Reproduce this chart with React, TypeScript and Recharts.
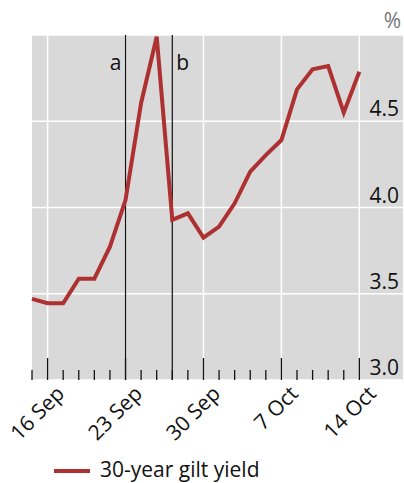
import React from 'react';
import { LineChart, Line, XAxis, YAxis, CartesianGrid, ReferenceLine } from 'recharts';

// business days, 15 Sep - 14 Oct 2022
const dates = [
  '15 Sep', '16 Sep', '19 Sep', '20 Sep', '21 Sep', '22 Sep', '23 Sep',
  '26 Sep', '27 Sep', '28 Sep', '29 Sep', '30 Sep',
  '3 Oct', '4 Oct', '5 Oct', '6 Oct', '7 Oct',
  '10 Oct', '11 Oct', '12 Oct', '13 Oct', '14 Oct'
];
const giltYield = [
  3.47, 3.445, 3.445, 3.587, 3.587, 3.773, 4.043,
  4.606, 4.99, 3.928, 3.966, 3.825,
  3.889, 4.024, 4.208, 4.304, 4.391,
  4.685, 4.801, 4.82, 4.55, 4.787
];
const labelledDates = ['16 Sep', '23 Sep', '30 Sep', '7 Oct', '14 Oct'];
const yTicks = [3, 3.5, 4, 4.5];
const events = [
  { date: '23 Sep', label: 'a' },
  { date: '28 Sep', label: 'b' }
];

const data = dates.map((d, i) => ({ i, date: d, value: giltYield[i] }));
const majorIdx = labelledDates.map((d) => dates.indexOf(d));

const FONT = '"Open Sans", "Noto Sans", sans-serif';
const RED = '#ae3131';
const FS = 21;

const XTick = (props: any) => {
  const { x, y, payload } = props;
  const i = payload.value;
  const major = majorIdx.includes(i);
  const tx = x + 18;
  const ty = y + 15;
  return (
    <g>
      <line x1={x} x2={x} y1={y} y2={y - (major ? 22 : 10)} stroke="#111" strokeWidth={1.3} />
      {major && (
        <text x={tx} y={ty} textAnchor="end" fontSize={FS} fill="#111" fontFamily={FONT}
          transform={`rotate(-45, ${tx}, ${ty})`}>
          {dates[i]}
        </text>
      )}
    </g>
  );
};

const YTick = (props: any) => {
  const { y, payload } = props;
  return (
    <text x={399} y={y - 5} textAnchor="end" fontSize={FS} fill="#111" fontFamily={FONT}>
      {payload.value.toFixed(1)}
    </text>
  );
};

export default function App() {
  return (
    <div style={{ position: 'absolute', left: 0, top: 0, width: 404, height: 483, background: '#fff', fontFamily: FONT, overflow: 'hidden' }}>
      <LineChart width={404} height={483} data={data} margin={{ top: 35, right: 0, bottom: 73, left: 32 }}>
        <CartesianGrid vertical={false} stroke="#fff" strokeWidth={1.5} fill="#d9d9d9" fillOpacity={1} />
        <XAxis
          dataKey="i"
          type="number"
          domain={[0, 23.8]}
          ticks={data.map((d) => d.i)}
          interval={0}
          axisLine={false}
          tickLine={false}
          tickSize={0}
          tickMargin={0}
          height={30}
          tick={<XTick />}
        />
        <YAxis
          orientation="right"
          width={1}
          domain={[3, 5]}
          ticks={yTicks}
          axisLine={false}
          tickLine={false}
          tickSize={0}
          tickMargin={0}
          tick={<YTick />}
        />
        {majorIdx.map((i) => (
          <ReferenceLine key={'g' + i} x={i} stroke="#fff" strokeWidth={1.5} />
        ))}
        {events.map((e) => (
          <ReferenceLine
            key={e.label}
            x={dates.indexOf(e.date)}
            stroke="#111"
            strokeWidth={1.2}
            label={(p: any) => {
              const vb = p.viewBox;
              const left = e.label === 'a';
              return (
                <text x={left ? vb.x - 4 : vb.x + 4} y={vb.y + 35} textAnchor={left ? 'end' : 'start'}
                  fontSize={FS} fill="#111" fontFamily={FONT}>
                  {e.label}
                </text>
              );
            }}
          />
        ))}
        <Line type="linear" dataKey="value" stroke={RED} strokeWidth={4} dot={false} isAnimationActive={false} />
      </LineChart>
      <div style={{ position: 'absolute', right: 3, top: 6, fontSize: FS, color: '#777' }}>%</div>
      <div style={{ position: 'absolute', left: 54, top: 457, width: 340, height: 24, display: 'flex', alignItems: 'center', whiteSpace: 'nowrap' }}>
        <span style={{ display: 'inline-block', width: 36, height: 4, background: RED, marginTop: 3 }} />
        <span style={{ marginLeft: 10, fontSize: FS, color: '#111', lineHeight: '24px' }}>30-year gilt yield</span>
      </div>
    </div>
  );
}
